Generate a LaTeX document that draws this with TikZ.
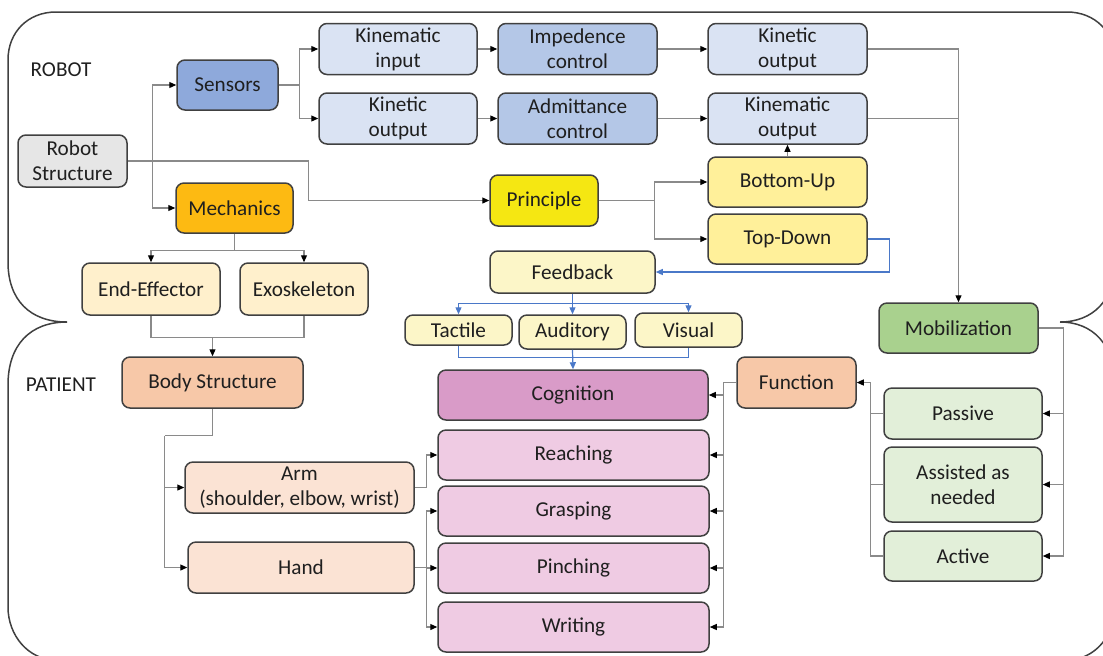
\documentclass[tikz,border=0pt]{standalone}
\usepackage{fontspec}
\setmainfont{Carlito}
\usepackage{xcolor}
\usetikzlibrary{arrows.meta}

\definecolor{framegray}{HTML}{404040}
\definecolor{linegray}{HTML}{8A8A8A}
\definecolor{fbblue}{HTML}{4A78C8}
\definecolor{structgray}{HTML}{E6E6E6}
\definecolor{sensorblue}{HTML}{8EA9DB}
\definecolor{mechorange}{HTML}{FDBA12}
\definecolor{kinblue}{HTML}{DAE3F3}
\definecolor{ctrlblue}{HTML}{B4C7E7}
\definecolor{princyellow}{HTML}{F5E712}
\definecolor{diryellow}{HTML}{FFF09A}
\definecolor{fbyellow}{HTML}{FCF6C8}
\definecolor{mechcream}{HTML}{FFF0CC}
\definecolor{bodyorange}{HTML}{F7C8A8}
\definecolor{limbpeach}{HTML}{FBE3D4}
\definecolor{cogpink}{HTML}{D99BC8}
\definecolor{taskpink}{HTML}{EFCBE3}
\definecolor{mobgreen}{HTML}{A9D18E}
\definecolor{modegreen}{HTML}{E2EFD9}

\begin{document}
\begin{tikzpicture}[x=0.5pt, y=-0.5pt,
        box/.style={draw=framegray, line width=0.75pt, rounded corners=4pt, align=center,
            inner sep=1pt, text=black!88, font=\fontsize{10.6}{12.5}\selectfont},
        boxsize/.style 2 args={minimum width=#1*0.5pt, minimum height=#2*0.5pt},
        region/.style={text=black!88, font=\fontsize{10.6}{12.5}\selectfont},
        wire/.style={draw=linegray, line width=0.6pt},
        arr/.style={wire, -{Triangle[length=3.5pt, width=3pt, color=black]}},
        bwire/.style={draw=fbblue, line width=0.6pt},
        barr/.style={bwire, -{Triangle[length=3.5pt, width=3pt]}},
        frame/.style={draw=framegray, line width=0.75pt}]

        \useasboundingbox (0,0) rectangle (1103,655);
        \clip (0,0) rectangle (1103,655);

        \draw[frame] (67,322) .. controls (30,322) and (8,300) .. (8,262) -- (8,60)
            .. controls (8,32) and (28,12) .. (56,12) -- (1067,12)
            .. controls (1095,12) and (1115,32) .. (1115,60) -- (1115,262)
            .. controls (1115,300) and (1093,322) .. (1060,322);
        \draw[frame] (67,322) .. controls (30,322) and (8,345) .. (8,385) -- (8,607)
            .. controls (8,635) and (28,660) .. (56,660) -- (1067,660)
            .. controls (1095,660) and (1115,635) .. (1115,607) -- (1115,385)
            .. controls (1115,345) and (1093,322) .. (1060,322);

        \node[region] (robotlbl) at (61,70) {ROBOT};
        \node[region] (patientlbl) at (61,385) {PATIENT};

        \node[box, fill=structgray, boxsize={109}{52}] (rs) at (72.5,161) {Robot\\Structure};
        \node[box, fill=sensorblue, boxsize={101}{50}] (sensors) at (227.5,85) {Sensors};
        \node[box, fill=mechorange, boxsize={117}{50}] (mech) at (234.5,208) {Mechanics};
        \node[box, fill=kinblue, boxsize={158}{51}] (kinin) at (398,49) {Kinematic\\input};
        \node[box, fill=kinblue, boxsize={158}{51}] (kout1) at (398,118.5) {Kinetic\\output};
        \node[box, fill=ctrlblue, boxsize={159}{51}] (imp) at (577.5,49) {Impedence\\control};
        \node[box, fill=ctrlblue, boxsize={159}{51}] (adm) at (577.5,118.5) {Admittance\\control};
        \node[box, fill=kinblue, boxsize={159}{51}] (kout2) at (787.5,49) {Kinetic\\output};
        \node[box, fill=kinblue, boxsize={159}{51}] (kmout) at (787.5,118.5) {Kinematic\\output};
        \node[box, fill=princyellow, boxsize={108}{51}] (principle) at (544,200.5) {Principle};
        \node[box, fill=diryellow, boxsize={159}{50}] (bu) at (787.5,182) {Bottom-Up};
        \node[box, fill=diryellow, boxsize={159}{50}] (td) at (787.5,239) {Top-Down};
        \node[box, fill=fbyellow, boxsize={165}{42}] (feedback) at (572.5,272) {Feedback};
        \node[box, fill=fbyellow, boxsize={107}{30}] (tactile) at (458.5,330) {Tactile};
        \node[box, fill=fbyellow, boxsize={107}{34}] (auditory) at (572.5,332) {Auditory};
        \node[box, fill=fbyellow, boxsize={107}{34}] (visual) at (688.5,330) {Visual};
        \node[box, fill=mechcream, boxsize={138}{52}] (ee) at (151,289) {End-Effector};
        \node[box, fill=mechcream, boxsize={128}{52}] (exo) at (304,289) {Exoskeleton};
        \node[box, fill=mobgreen, boxsize={159}{50}] (mob) at (958.5,328) {Mobilization};
        \node[box, fill=bodyorange, boxsize={181}{51}] (bs) at (212.5,382.5) {Body Structure};
        \node[box, fill=bodyorange, boxsize={119}{51}] (func) at (796.5,382.5) {Function};
        \node[box, fill=cogpink, boxsize={270}{50}] (cog) at (573,395) {Cognition};
        \node[box, fill=taskpink, boxsize={271}{50}] (reach) at (573.5,455) {Reaching};
        \node[box, fill=taskpink, boxsize={271}{50}] (grasp) at (573.5,511) {Grasping};
        \node[box, fill=taskpink, boxsize={271}{50}] (pinch) at (573.5,568) {Pinching};
        \node[box, fill=taskpink, boxsize={271}{50}] (write) at (573.5,627) {Writing};
        \node[box, fill=limbpeach, boxsize={229}{51}] (arm) at (299.5,487.5) {Arm\\(shoulder, elbow, wrist)};
        \node[box, fill=limbpeach, boxsize={226}{51}] (hand) at (301,567.5) {Hand};
        \node[box, fill=modegreen, boxsize={158}{51}] (passive) at (963,413.5) {Passive};
        \node[box, fill=modegreen, boxsize={158}{75}] (assisted) at (963,484.5) {Assisted as\\needed};
        \node[box, fill=modegreen, boxsize={158}{50}] (active) at (963,556) {Active};

        \draw[arr] (rs.east) -- ++(25,0) coordinate (rsj) |- (sensors.west);
        \draw[arr] (rsj) |- (mech.west);
        \draw[arr] (rs.east) -- ++(181,0) |- (principle.west);
        \draw[arr] (sensors.east) -- ++(21,0) coordinate (sj) |- (kinin.west);
        \draw[arr] (sj) |- (kout1.west);
        \draw[arr] (kinin) -- (imp);
        \draw[arr] (imp) -- (kout2);
        \draw[arr] (kout1) -- (adm);
        \draw[arr] (adm) -- (kmout);
        \draw[arr] (kout2.east) -| (mob.north);
        \draw[wire] (kmout.east) -- (kmout.east -| mob.north);
        \draw[arr] (principle.east) -- ++(56,0) coordinate (pj) |- (bu.west);
        \draw[arr] (pj) |- (td.west);
        \draw[arr] (bu.north) -- (kmout.south);

        \draw[barr] (td.east) -- ++(22,0) |- (feedback.east);
        \draw[bwire] (feedback.south) -- ++(0,10) coordinate (fj);
        \draw[barr] (fj) -| (tactile.north);
        \draw[barr] (fj) -| (visual.north);
        \draw[barr] (fj) -- (auditory.north);
        \draw[bwire] (tactile.south) -- ++(0,12) -| (visual.south);
        \draw[barr] (auditory.south) -- (cog.north);

        \draw[wire] (mech.south) -- ++(0,17) coordinate (mj);
        \draw[arr] (mj) -| (ee.north);
        \draw[arr] (mj) -| (exo.north);
        \draw[wire] (ee.south) -- ++(0,22) coordinate (ej) -| (exo.south);
        \draw[arr] (ej -| bs.north) -- (bs.north);

        \draw[wire] (bs.south) -- ++(0,27) -- ++(-48,0) coordinate (bj);
        \draw[arr] (bj) |- (arm.west);
        \draw[arr] (bj) |- (hand.west);
        \draw[arr] (arm.east) -- ++(12,0) |- (reach.west);
        \draw[wire] (hand.east) -- ++(12,0) coordinate (hj);
        \foreach \task in {grasp, pinch, write}
            \draw[arr] (hj) |- (\task.west);

        \draw[wire] (func.west) -- ++(-13,0) coordinate (fnj);
        \foreach \task in {cog, reach, grasp, pinch, write}
            \draw[arr] (fnj) |- (\task.east);

        \draw[wire] (mob.east) -- ++(25,0) coordinate (mbj);
        \foreach \mode in {passive, assisted, active}
            \draw[arr] (mbj) |- (\mode.east);
        \draw[arr] (active.west) -- ++(-13,0) coordinate (mdj) |- (func.east);
        \draw[wire] (passive.west) -- (passive.west -| mdj);
        \draw[wire] (assisted.west) -- (assisted.west -| mdj);
    \end{tikzpicture}
\end{document}
